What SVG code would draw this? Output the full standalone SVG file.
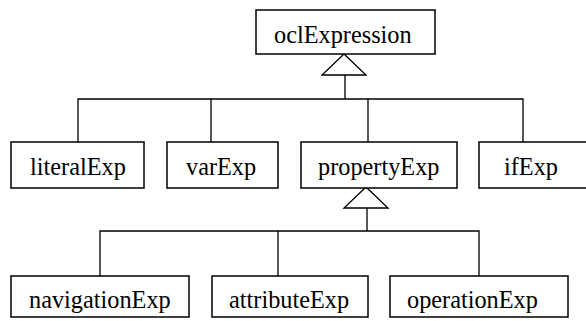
<svg xmlns="http://www.w3.org/2000/svg" width="586" height="321" viewBox="0 0 586 321">
<style>
.box{fill:#fff;stroke:#000;stroke-width:1.5}
.lbl{font-family:"Liberation Serif","Times New Roman",serif;font-size:24.3px;fill:#000}
.con{fill:none;stroke:#000;stroke-width:1.3}
.tri{fill:#fff;stroke:#000;stroke-width:1.3;stroke-linejoin:miter}
</style>
<rect width="586" height="321" fill="#fff"/>
<g id="connectors">
<path class="con" d="M345,75 V99 M78,142 V99 H523 V142 M211,99 V142 M368,99 V142"/>
<polygon class="tri" points="344,54 322,75 366,75"/>
<path class="con" d="M367,208 V231 M100,276 V231 H479 V276 M278,231 V276"/>
<polygon class="tri" points="366,187 344,208 388,208"/>
</g>
<g id="oclExpression"><rect class="box" x="256" y="10" width="179" height="44"/><text class="lbl" x="274" y="43">oclExpression</text></g>
<g id="literalExp"><rect class="box" x="11" y="142" width="133" height="46"/><text class="lbl" x="30" y="175">literalExp</text></g>
<g id="varExp"><rect class="box" x="167" y="142" width="111" height="46"/><text class="lbl" x="186" y="175">varExp</text></g>
<g id="propertyExp"><rect class="box" x="301" y="142" width="156" height="46"/><text class="lbl" x="318" y="175">propertyExp</text></g>
<g id="ifExp"><rect class="box" x="479" y="142" width="120" height="46"/><text class="lbl" x="504" y="175">ifExp</text></g>
<g id="navigationExp"><rect class="box" x="11" y="276" width="178" height="41"/><text class="lbl" x="29" y="308">navigationExp</text></g>
<g id="attributeExp"><rect class="box" x="212" y="276" width="156" height="41"/><text class="lbl" x="229" y="308">attributeExp</text></g>
<g id="operationExp"><rect class="box" x="390" y="276" width="178" height="41"/><text class="lbl" x="407" y="308">operationExp</text></g>
</svg>
